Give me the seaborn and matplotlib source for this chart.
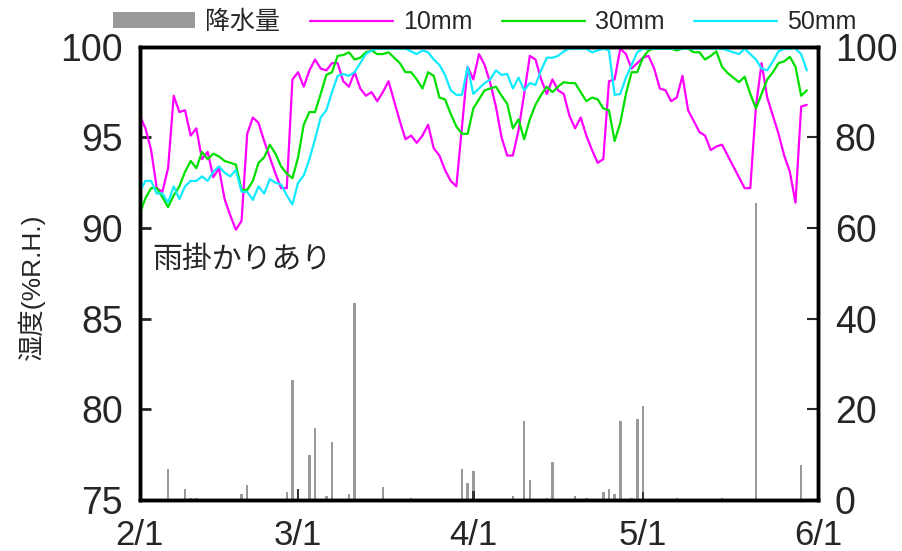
import numpy as np
import pandas as pd
import matplotlib.pyplot as plt
import seaborn as sns
from matplotlib.patches import Patch
from matplotlib.lines import Line2D

sns.set_style('white')
plt.rcParams['font.family'] = ['Liberation Sans', 'Noto Sans CJK JP']

# 日平均湿度 (%R.H.)  2/1 から
h10 = [96.2, 95.5, 94.3, 92.2, 92.0, 93.3, 97.3, 96.4, 96.5, 95.1,
       95.5, 93.8, 94.2, 92.8, 93.3, 91.6, 90.7, 89.9, 90.4, 95.2,
       96.1, 95.8, 94.8, 93.9, 93.0, 92.2, 92.2, 98.2, 98.6, 97.8,
       98.7, 99.3, 98.8, 98.7, 99.1, 99.1, 98.1, 97.8, 98.6, 97.7,
       97.3, 97.5, 97.0, 97.5, 98.1, 97.0, 95.9, 94.9, 95.1, 94.7,
       95.1, 95.7, 94.4, 94.0, 93.2, 92.6, 92.3, 95.6, 98.9, 98.2,
       99.6, 99.0, 98.0, 96.7, 95.0, 94.0, 94.0, 95.4, 97.4, 99.5,
       99.3, 98.2, 97.4, 98.2, 97.6, 97.4, 96.2, 95.5, 96.1, 95.1,
       94.3, 93.6, 93.8, 98.1, 98.2, 99.9, 99.6, 98.8, 99.1, 99.4,
       99.5, 98.8, 97.7, 97.6, 97.0, 97.2, 98.4, 96.5, 95.9, 95.3,
       95.1, 94.3, 94.5, 94.6, 94.0, 93.4, 92.8, 92.2, 92.2, 96.7,
       99.1, 97.2, 96.2, 95.2, 94.0, 93.1, 91.4, 96.7, 96.8]
h30 = [90.8, 91.65, 92.2, 92.2, 91.7, 91.15, 91.8, 92.3, 93.1, 93.7,
       93.3, 94.2, 93.8, 94.1, 93.95, 93.7, 93.6, 93.5, 92.1, 92.1,
       92.6, 93.6, 93.9, 94.6, 94.1, 93.4, 93.0, 92.75, 93.9, 95.7,
       96.4, 96.4, 97.4, 98.45, 98.6, 99.5, 99.55, 99.7, 99.3, 99.4,
       99.7, 99.8, 99.6, 99.6, 99.7, 99.4, 99.1, 98.6, 98.6, 98.2,
       97.7, 98.6, 98.4, 97.2, 97.1, 96.3, 95.6, 95.2, 95.2, 96.6,
       97.1, 97.6, 97.7, 97.8, 97.3, 96.85, 95.5, 96.0, 94.9, 96.0,
       96.8, 97.35, 97.8, 97.5, 97.8, 98.05, 98.0, 98.0, 97.5, 97.0,
       97.2, 97.1, 96.6, 96.5, 94.8, 95.8, 97.4, 98.6, 98.6, 99.4,
       99.8, 99.9, 99.9, 99.9, 99.9, 99.8, 99.9, 99.9, 99.7, 99.7,
       99.3, 99.5, 99.75, 98.9, 98.55, 98.3, 98.05, 98.35, 97.4, 96.6,
       97.4, 98.2, 98.6, 99.1, 99.2, 99.45, 98.9, 97.3, 97.6]
h50 = [92.0, 92.6, 92.6, 91.9, 91.9, 91.4, 92.3, 91.6, 92.3, 92.6,
       92.6, 92.85, 92.6, 93.1, 93.4, 93.05, 92.85, 93.2, 92.0, 92.0,
       91.55, 92.3, 91.9, 92.7, 92.5, 92.4, 91.8, 91.3, 92.5, 92.9,
       93.8, 94.9, 96.1, 96.5, 97.5, 98.4, 98.5, 98.4, 98.6, 99.1,
       99.6, 99.8, 99.9, 99.9, 99.9, 99.9, 99.9, 99.9, 99.75, 99.6,
       99.8, 99.7, 99.3, 99.0, 98.45, 97.6, 97.35, 97.35, 98.9, 97.4,
       97.7, 98.0, 98.2, 98.7, 98.45, 98.5, 97.7, 98.3, 97.6, 98.0,
       97.9, 98.7, 99.4, 99.4, 99.5, 99.75, 99.9, 99.9, 99.9, 99.9,
       99.7, 99.8, 99.9, 99.8, 97.35, 97.4, 98.3, 99.0, 99.7, 99.9,
       99.9, 99.9, 99.9, 99.9, 99.9, 99.9, 99.9, 99.9, 99.9, 99.9,
       99.9, 99.9, 99.9, 99.9, 99.8, 99.7, 99.6, 99.9, 99.6, 99.3,
       98.8, 98.7, 99.2, 99.75, 99.9, 99.9, 99.9, 99.6, 98.7]

# 降水量 (mm)  2/1 からの日数
rain_days = [5, 8, 9, 10, 18, 19, 26, 27, 30, 31, 33, 34, 37, 38, 43, 48,
             57, 58, 59, 66, 68, 69, 72, 73, 77, 79, 82, 83, 84, 85, 87,
             88, 89, 95, 103, 109, 117]
rain_mm = [6.8, 2.4, 0.4, 0.4, 1.3, 3.2, 1.7, 26.5, 9.8, 15.8, 0.9, 12.8,
           1.3, 43.4, 2.9, 0.3, 6.8, 3.8, 6.3, 0.8, 17.3, 4.4, 0.3, 8.3,
           0.8, 0.3, 1.8, 2.4, 1.3, 17.3, 0.3, 17.8, 20.8, 0.3, 0.3, 65.6,
           7.7]
snow_days = [28, 59, 89]
snow_mm = [2.4, 2.0, 1.8]

start = pd.Timestamp('2023-02-01')
month_starts = ['2023-02-01', '2023-03-01', '2023-04-01', '2023-05-01', '2023-06-01']
month_labels = ['2/1', '3/1', '4/1', '5/1', '6/1']
month_pos = [(pd.Timestamp(m) - start).days for m in month_starts]

days = np.arange(len(h10))
c10, c30, c50, crain = '#ff00ff', '#00e000', '#11eaff', '#9a9a9a'

precip = pd.DataFrame({
    'day': rain_days + snow_days,
    'mm': rain_mm + snow_mm,
    'kind': ['rain'] * len(rain_days) + ['snow'] * len(snow_days),
})

fig, ax = plt.subplots(figsize=(9.02, 5.51), dpi=100)
fig.subplots_adjust(left=0.155, right=0.907, bottom=0.093, top=0.915)
ax2 = ax.twinx()

sns.barplot(data=precip, x='day', y='mm', hue='kind', dodge=False,
            palette={'rain': crain, 'snow': '#333333'}, native_scale=True,
            width=0.45, saturation=1, linewidth=0, errorbar=None,
            legend=False, ax=ax2)

sns.lineplot(x=days, y=h10, color=c10, lw=1.6, ax=ax)
sns.lineplot(x=days, y=h30, color=c30, lw=1.6, ax=ax)
sns.lineplot(x=days, y=h50, color=c50, lw=1.6, ax=ax)

ax.set_zorder(ax2.get_zorder() + 1)
ax.patch.set_visible(False)

ax.set_xlim(0, 120)
ax.set_ylim(75, 100)
ax2.set_ylim(0, 100)
ax.set_yticks([75, 80, 85, 90, 95, 100])
ax2.set_yticks([0, 20, 40, 60, 80, 100])
ax.set_xticks(month_pos)
ax.set_xticklabels(month_labels)
ax.set_xlabel('')
ax2.set_xlabel('')
ax2.set_ylabel('')
ax.set_ylabel('湿度(%R.H.)', fontsize=19)
ax.yaxis.set_label_coords(-0.14, 0.47)

ax.tick_params(axis='y', direction='in', length=8, width=2, labelsize=27, pad=12)
ax.tick_params(axis='x', length=0, labelsize=25, pad=14)
ax2.tick_params(axis='y', direction='in', length=8, width=1.5, labelsize=27, pad=12)

for a in (ax, ax2):
    for s in a.spines.values():
        s.set_linewidth(2.5)
        s.set_color('black')

ax.text(0.018, 0.53, '雨掛かりあり', transform=ax.transAxes, fontsize=21.5,
        va='center', ha='left')

handles = [Patch(facecolor=crain, edgecolor='none'),
           Line2D([], [], color=c10, lw=1.6),
           Line2D([], [], color=c30, lw=1.6),
           Line2D([], [], color=c50, lw=1.6)]
fig.legend(handles, ['降水量', '10mm', '30mm', '50mm'], loc='center',
           bbox_to_anchor=(0.537, 1 - 22 / 551), ncol=4, frameon=False,
           fontsize=18, handlelength=3.3, handleheight=0.6,
           handletextpad=0.4, columnspacing=1.2)

fig.savefig('out.png', dpi=100)
